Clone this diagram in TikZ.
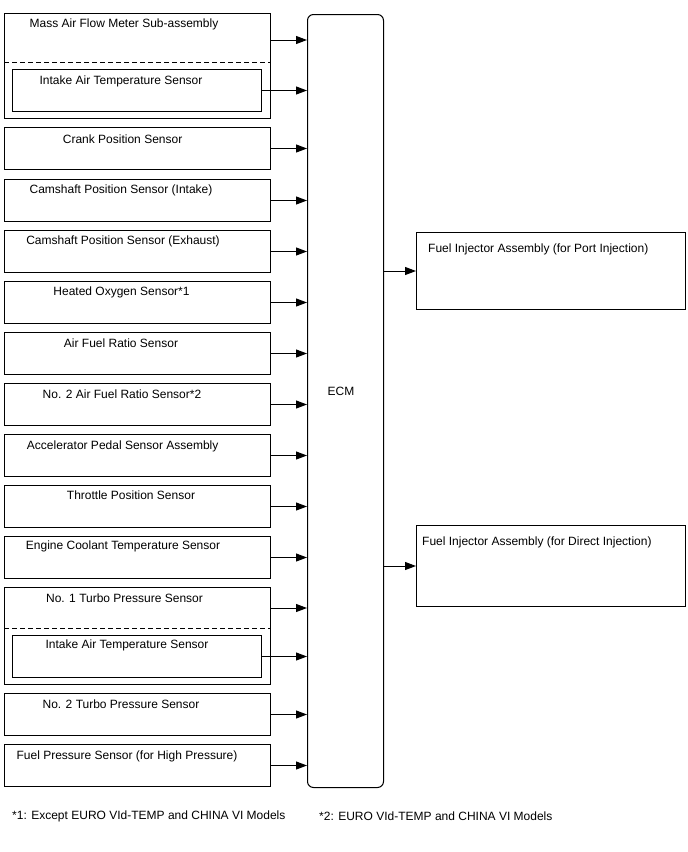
\documentclass[tikz,border=0pt]{standalone}
\usepackage{fontspec}
\setmainfont{Liberation Sans}
\usetikzlibrary{arrows.meta,calc}
\begin{document}
\begin{tikzpicture}[x=1pt,y=-1pt,
  box/.style={draw, line width=1pt, anchor=north west, inner sep=0pt, minimum width=266pt, minimum height=42pt},
  ibox/.style={draw, line width=1pt, anchor=north west, inner sep=0pt, minimum width=249pt, minimum height=42pt},
  rbox/.style={draw, line width=1pt, anchor=north west, inner sep=0pt, minimum width=269pt},
  lbl/.style={font=\fontsize{12}{14}\selectfont, inner sep=0pt},
  note/.style={font=\fontsize{12}{14}\selectfont, inner sep=0pt, anchor=west},
  arr/.style={line width=1pt, -{Triangle[length=11pt,width=8pt]}},
  sep/.style={line width=1pt, dash pattern=on 5pt off 3pt}]
\useasboundingbox (0,0) rectangle (688,852);
% ECM
\node[draw, rounded corners=6pt, line width=1pt, anchor=north west, minimum width=76pt, minimum height=773pt, inner sep=0pt] (ecm) at (307,14) {};
\node[lbl] (ecmt) at (341,391) {ECM};
% Mass air flow meter group
\node[box, minimum height=105pt] (maf) at (4,13) {};
\node[lbl] (maft) at (124,24) {Mass Air Flow Meter Sub-assembly};
\coordinate (mafl) at ($(maf.north west)+(0,49)$);
\coordinate (mafr) at ($(maf.north east)+(0,49)$);
\draw[sep] (mafl) -- (mafr);
\node[ibox] (iat1) at (12,69) {};
\node[lbl] (iat1t) at (121,81) {Intake Air Temperature Sensor};
\coordinate (mafa) at ($(maf.north east)+(0,27)$);
\draw[arr] (mafa) -- (mafa -| ecm.west);
\draw[arr] (iat1.east) -- (iat1.east -| ecm.west);
% single sensors
\node[box] (crank) at (4,127) {};
\node[lbl] (crankt) at (122.6,139) {Crank Position Sensor};
\node[box] (camin) at (4,179) {};
\node[lbl] (camint) at (121,190) {Camshaft Position Sensor (Intake)};
\node[box] (camex) at (4,230) {};
\node[lbl] (camext) at (123,241) {Camshaft Position Sensor (Exhaust)};
\node[box] (hos) at (4,281) {};
\node[lbl] (host) at (121.5,292) {Heated Oxygen Sensor*1};
\node[box] (afs) at (4,332) {};
\node[lbl] (afst) at (121,343) {Air Fuel Ratio Sensor};
\node[box] (afs2) at (4,383) {};
\node[lbl] (afs2t) at (122,394) {No. 2 Air Fuel Ratio Sensor*2};
\node[box] (aps) at (4,434) {};
\node[lbl] (apst) at (122.7,446) {Accelerator Pedal Sensor Assembly};
\node[box] (tps) at (4,485) {};
\node[lbl] (tpst) at (131,495) {Throttle Position Sensor};
\node[box] (ect) at (4,536) {};
\node[lbl] (ectt) at (123,546) {Engine Coolant Temperature Sensor};
\foreach \n in {crank,camin,camex,hos,afs,afs2,aps,tps,ect}
  \draw[arr] (\n.east) -- (\n.east -| ecm.west);
% No.1 turbo group
\node[box, minimum height=97pt] (tp1) at (4,587) {};
\node[lbl] (tp1t) at (124.5,598) {No. 1 Turbo Pressure Sensor};
\coordinate (tp1l) at ($(tp1.north west)+(0,41)$);
\coordinate (tp1r) at ($(tp1.north east)+(0,41)$);
\draw[sep] (tp1l) -- (tp1r);
\node[ibox] (iat2) at (12,635) {};
\node[lbl] (iat2t) at (127,645) {Intake Air Temperature Sensor};
\coordinate (tp1a) at ($(tp1.north east)+(0,21)$);
\draw[arr] (tp1a) -- (tp1a -| ecm.west);
\draw[arr] (iat2.east) -- (iat2.east -| ecm.west);
% No.2 turbo, fuel pressure
\node[box] (tp2) at (4,693) {};
\node[lbl] (tp2t) at (121,704) {No. 2 Turbo Pressure Sensor};
\node[box] (fps) at (4,744) {};
\node[lbl] (fpst) at (127,756) {Fuel Pressure Sensor (for High Pressure)};
\draw[arr] (tp2.east) -- (tp2.east -| ecm.west);
\draw[arr] (fps.east) -- (fps.east -| ecm.west);
% outputs
\node[rbox, minimum height=77pt] (port) at (416,232) {};
\node[lbl, anchor=west] (portt) at (428,249) {Fuel Injector Assembly (for Port Injection)};
\node[rbox, minimum height=81pt] (dir) at (416,525) {};
\node[lbl, anchor=west] (dirt) at (422,542) {Fuel Injector Assembly (for Direct Injection)};
\draw[arr] (port.west -| ecm.east) -- (port.west);
\draw[arr] (dir.west -| ecm.east) -- (dir.west);
% footnotes
\node[note] (n1) at (12,816) {*1: Except EURO VId-TEMP and CHINA VI Models};
\node[note] (n2) at (319,816) {*2: EURO VId-TEMP and CHINA VI Models};
\end{tikzpicture}
\end{document}
